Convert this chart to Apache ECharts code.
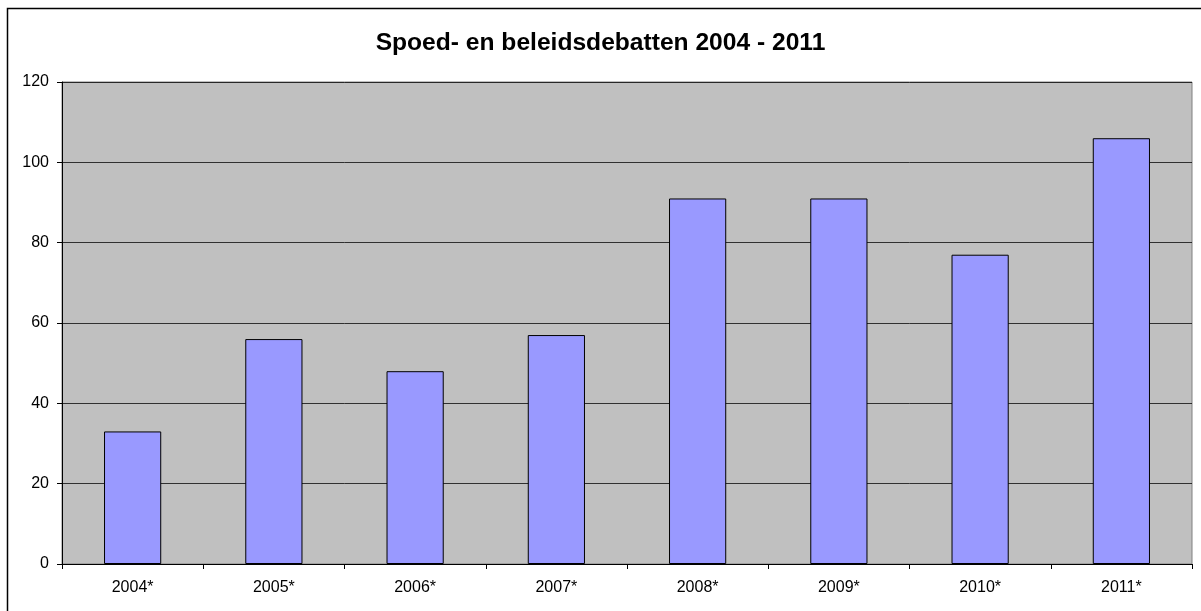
<!DOCTYPE html>
<html>
<head>
<meta charset="utf-8">
<script src="https://cdn.jsdelivr.net/npm/echarts@6/dist/echarts.min.js"></script>
<style>
  html, body { margin: 0; padding: 0; background: #fff; }
  #chart { width: 1201px; height: 611px; }
</style>
</head>
<body>
<div id="chart"></div>
<script>
// categorieën en waarden
const years = ['2004*', '2005*', '2006*', '2007*', '2008*', '2009*', '2010*', '2011*'];
const debates = [33, 56, 48, 57, 91, 91, 77, 106];
const yTicks = [0, 20, 40, 60, 80, 100, 120];

const myChart = echarts.init(document.getElementById('chart'));
const font = 'Liberation Sans, Arial, sans-serif';

myChart.setOption({
  animation: false,
  title: {
    text: 'Spoed- en beleidsdebatten 2004 - 2011',
    left: 'center',
    top: 26,
    textStyle: { fontFamily: font, fontSize: 24.6, fontWeight: 'bold', color: '#000' }
  },
  graphic: [{
    type: 'rect',
    shape: { x: 7.5, y: 8.5, width: 1200, height: 610 },
    style: { fill: 'none', stroke: '#000', lineWidth: 1.5 },
    silent: true
  }],
  grid: {
    left: 62, top: 82, width: 1130, height: 482,
    show: true,
    backgroundColor: '#C0C0C0',
    borderColor: '#808080',
    borderWidth: 1
  },
  xAxis: {
    type: 'category',
    data: years,
    axisLine: { lineStyle: { color: '#000', width: 1 } },
    axisTick: { show: true, alignWithLabel: false, length: 5, lineStyle: { color: '#000' } },
    axisLabel: { fontFamily: font, fontSize: 16, color: '#000', margin: 16 }
  },
  yAxis: {
    type: 'value',
    min: yTicks[0],
    max: yTicks[yTicks.length - 1],
    interval: 20,
    axisLine: { show: true, lineStyle: { color: '#000', width: 1 } },
    axisTick: { show: true, length: 5, lineStyle: { color: '#000' } },
    axisLabel: { fontFamily: font, fontSize: 16, color: '#000', margin: 13 },
    splitLine: { show: true, lineStyle: { color: '#000', width: 1, opacity: 0.75 } }
  },
  series: [{
    type: 'bar',
    data: debates,
    barWidth: '40.5%',
    itemStyle: { color: '#9999FF', borderColor: '#000', borderWidth: 1 }
  }]
});
</script>
</body>
</html>
